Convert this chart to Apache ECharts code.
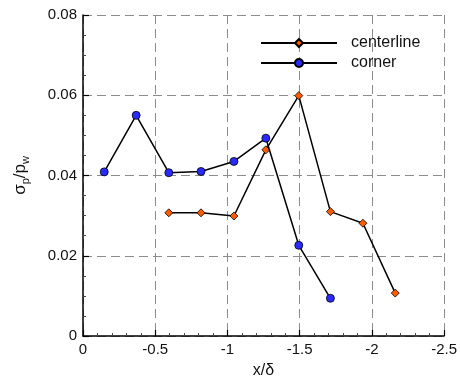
<!DOCTYPE html>
<html>
<head>
<meta charset="utf-8">
<script src="https://cdn.jsdelivr.net/npm/echarts@6/dist/echarts.min.js"></script>
<style>
  html, body { margin: 0; padding: 0; background: #fff; }
  #chart { width: 460px; height: 384px; }
</style>
</head>
<body>
<div id="chart"></div>
<script>
// values
const centerlineX = [-0.594, -0.817, -1.045, -1.266, -1.494, -1.713, -1.938, -2.162];
const centerlineY = [0.0307, 0.0307, 0.0299, 0.0464, 0.0599, 0.031, 0.0281, 0.0107];
const cornerX = [-0.147, -0.368, -0.594, -0.817, -1.045, -1.266, -1.494, -1.713];
const cornerY = [0.0409, 0.055, 0.0407, 0.041, 0.0435, 0.0493, 0.0226, 0.0094];

const FONT = "'Liberation Sans', Arial, sans-serif";
const zip = (xs, ys) => xs.map((x, i) => [x, ys[i]]);

const chart = echarts.init(document.getElementById("chart"), null, { renderer: "canvas" });

const dashed = { show: true, lineStyle: { color: "#8c8c8c", width: 1, type: [9, 5] } };

const option = {
  animation: false,
  backgroundColor: "#fff",
  grid: { left: 83, right: 15, top: 15, bottom: 41 },
  legend: {
    left: 260,
    top: 35,
    orient: "vertical",
    padding: 0,
    itemWidth: 76,
    itemHeight: 10,
    itemGap: 4,
    textStyle: { fontFamily: FONT, fontSize: 16, color: "#111", padding: [0, 0, 0, 9] },
    data: ["centerline", "corner"],
  },
  xAxis: {
    type: "value",
    min: -2.5,
    max: 0,
    interval: 0.5,
    inverse: true,
    name: "x/δ",
    nameLocation: "middle",
    nameGap: 27,
    nameTextStyle: { fontFamily: FONT, fontSize: 16, color: "#111" },
    axisLine: { show: true, onZero: false, lineStyle: { color: "#000", width: 1.5 } },
    axisTick: { show: true, inside: true, length: 6, lineStyle: { color: "#000", width: 1.2 } },
    minorTick: { show: true, splitNumber: 5, length: 3, lineStyle: { color: "#444", width: 1 } },
    axisLabel: { fontFamily: FONT, fontSize: 15, color: "#111", margin: 6 },
    splitLine: dashed,
  },
  yAxis: {
    type: "value",
    min: 0,
    max: 0.08,
    interval: 0.02,
    name: "{a|σ}{s|p}{a|/p}{s|w}",
    nameLocation: "middle",
    nameGap: 52,
    nameRotate: 90,
    nameTextStyle: {
      rich: {
        a: { fontFamily: FONT, fontSize: 17, color: "#111" },
        s: { fontFamily: FONT, fontSize: 11, color: "#111", verticalAlign: "bottom", padding: [10, 0, 0, 0] },
      },
    },
    axisLine: { show: true, onZero: false, lineStyle: { color: "#000", width: 1.5 } },
    axisTick: { show: true, inside: true, length: 6, lineStyle: { color: "#000", width: 1.2 } },
    minorTick: { show: true, splitNumber: 4, length: 3, lineStyle: { color: "#444", width: 1 } },
    axisLabel: { fontFamily: FONT, fontSize: 15, color: "#111", margin: 6 },
    splitLine: dashed,
  },
  series: [
    {
      name: "centerline",
      type: "line",
      data: zip(centerlineX, centerlineY),
      symbol: "diamond",
      symbolSize: 8,
      z: 3,
      lineStyle: { color: "#000", width: 1.5 },
      itemStyle: { color: "#ff5a00", borderColor: "#000", borderWidth: 0.8 },
    },
    {
      name: "corner",
      type: "line",
      data: zip(cornerX, cornerY),
      symbol: "circle",
      symbolSize: 8,
      z: 4,
      lineStyle: { color: "#000", width: 1.5 },
      itemStyle: { color: "#2a2aff", borderColor: "#000", borderWidth: 0.8 },
    },
  ],
};

chart.setOption(option);
</script>
</body>
</html>
